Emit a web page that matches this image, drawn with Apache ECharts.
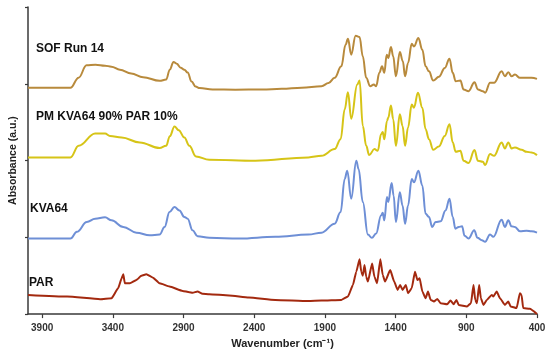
<!DOCTYPE html>
<html>
<head>
<meta charset="utf-8">
<script src="https://cdn.jsdelivr.net/npm/echarts@6/dist/echarts.min.js"></script>
<style>
html,body{margin:0;padding:0;background:#fff;}
#chart{width:550px;height:354px;}
</style>
</head>
<body>
<div id="chart"></div>
<script>
// Wavenumber axis ticks (cm-1)
const xTicks = [3900, 3400, 2900, 2400, 1900, 1400, 900, 400];
const seriesNames = ['SOF Run 14', 'PM KVA64 90% PAR 10%', 'KVA64', 'PAR'];

// [wavenumber, absorbance (offset, a.u.)]
const sofRun14 = [
[4000,2.948],[3700,2.948],[3642,3.08],[3586,3.240],[3523,3.249],[3455,3.236],[3410,3.223],[3350,3.184],
[3270,3.133],[3186,3.085],[3069,3.038],[3023,3.055],[2997,3.184],[2971,3.284],[2948,3.262],[2920,3.210],
[2894,3.184],[2871,3.146],[2843,3.029],[2815,2.964],[2786,2.945],[2695,2.926],[2534,2.922],[2345,2.926],
[2205,2.934],[2064,2.948],[1924,2.968],[1874,3.010],[1831,3.077],[1784,3.227],[1754,3.508],[1737,3.586],
[1714,3.379],[1683,3.625],[1655,3.608],[1632,3.357],[1608,3.077],[1580,2.968],[1554,2.990],[1538,2.968],
[1515,3.142],[1496,3.227],[1480,3.142],[1463,3.379],[1452,3.336],[1433,3.478],[1417,3.357],[1398,3.098],
[1370,3.414],[1349,3.292],[1333,3.098],[1312,3.271],[1286,3.521],[1270,3.486],[1239,3.595],[1211,3.443],
[1188,3.227],[1164,3.163],[1134,3.042],[1094,3.090],[1052,3.206],[1019,3.327],[996,3.142],[975,3.033],
[942,3.042],[919,2.926],[884,2.904],[842,3.020],[818,2.926],[783,2.904],[767,2.883],[732,3.012],
[704,3.012],[650,3.163],[627,3.098],[603,3.150],[580,3.098],[556,3.120],[521,3.077],[474,3.077],
[439,3.077],[400,3.064]
];

const pmKva64Par = [
[4000,2.041],[3700,2.041],[3642,2.192],[3525,2.352],[3455,2.352],[3420,2.321],[3338,2.300],[3209,2.236],
[3069,2.162],[3023,2.192],[2997,2.317],[2964,2.443],[2934,2.395],[2894,2.300],[2859,2.192],[2812,2.054],
[2718,2.010],[2392,1.997],[2017,2.041],[1924,2.062],[1831,2.149],[1789,2.278],[1760,2.667],[1737,2.891],
[1714,2.546],[1671,2.990],[1655,3.042],[1632,2.450],[1608,2.192],[1587,2.071],[1550,2.149],[1526,2.127],
[1503,2.343],[1491,2.373],[1480,2.278],[1461,2.515],[1452,2.559],[1433,2.718],[1417,2.537],[1398,2.192],
[1370,2.602],[1351,2.450],[1333,2.192],[1312,2.430],[1286,2.731],[1270,2.689],[1242,2.883],[1211,2.689],
[1188,2.408],[1164,2.278],[1134,2.140],[1094,2.184],[1052,2.321],[1019,2.472],[996,2.236],[975,2.114],
[942,2.127],[919,1.997],[884,1.968],[842,2.136],[818,1.997],[783,1.984],[767,1.942],[732,2.084],
[704,2.062],[650,2.236],[627,2.158],[603,2.236],[580,2.158],[556,2.171],[509,2.140],[474,2.114],
[439,2.106],[400,2.071]
];

const kva64 = [
[4000,0.984],[3700,0.984],[3654,1.071],[3584,1.200],[3525,1.243],[3455,1.260],[3409,1.221],[3326,1.135],
[3233,1.061],[3139,1.027],[3069,1.036],[3034,1.135],[2999,1.329],[2964,1.394],[2929,1.350],[2894,1.265],
[2871,1.243],[2836,1.091],[2801,1.014],[2718,0.993],[2508,0.984],[2251,1.006],[2017,1.036],[1924,1.061],
[1831,1.178],[1789,1.329],[1760,1.761],[1742,1.868],[1714,1.502],[1678,1.997],[1662,1.890],[1632,1.459],
[1596,1.036],[1568,0.993],[1538,1.049],[1503,1.285],[1491,1.320],[1480,1.221],[1461,1.524],[1452,1.459],
[1428,1.709],[1414,1.544],[1398,1.200],[1370,1.588],[1351,1.415],[1333,1.178],[1312,1.415],[1286,1.761],
[1270,1.718],[1239,1.868],[1211,1.674],[1188,1.307],[1164,1.265],[1141,1.135],[1117,1.200],[1082,1.208],
[1047,1.350],[1019,1.502],[996,1.265],[977,1.113],[954,1.135],[930,1.143],[912,1.019],[884,0.984],
[844,1.091],[821,0.993],[790,0.962],[767,0.941],[732,1.036],[709,1.006],[650,1.230],[627,1.135],
[603,1.221],[580,1.143],[556,1.135],[521,1.078],[474,1.087],[439,1.078],[400,1.061]
];

const par = [
[4000,0.250],[3724,0.229],[3490,0.194],[3409,0.207],[3362,0.337],[3338,0.466],[3326,0.518],[3315,0.401],
[3280,0.401],[3233,0.444],[3198,0.501],[3163,0.518],[3116,0.475],[3069,0.401],[2999,0.359],[2906,0.302],
[2859,0.285],[2836,0.278],[2801,0.294],[2766,0.265],[2718,0.259],[2578,0.242],[2438,0.216],[2251,0.185],
[2017,0.172],[1924,0.177],[1784,0.185],[1737,0.229],[1702,0.379],[1678,0.553],[1655,0.716],[1643,0.553],
[1632,0.501],[1620,0.638],[1608,0.488],[1596,0.423],[1566,0.660],[1550,0.488],[1531,0.401],[1508,0.716],
[1491,0.509],[1475,0.423],[1438,0.573],[1410,0.423],[1386,0.315],[1368,0.379],[1351,0.315],[1328,0.379],
[1312,0.272],[1286,0.337],[1263,0.553],[1246,0.444],[1230,0.466],[1211,0.294],[1188,0.207],[1171,0.294],
[1152,0.185],[1129,0.164],[1105,0.198],[1082,0.142],[1035,0.129],[1012,0.177],[989,0.129],[970,0.185],
[954,0.120],[895,0.100],[867,0.142],[849,0.379],[837,0.185],[825,0.142],[809,0.379],[797,0.207],
[779,0.120],[755,0.185],[720,0.250],[709,0.229],[685,0.294],[662,0.207],[627,0.120],[603,0.164],
[587,0.100],[544,0.078],[521,0.272],[509,0.250],[498,0.078],[451,0.069],[400,0.0]
];

const colors = ['#B88A3C', '#D6C417', '#6E8FD6', '#A3290F'];
const labelFont = 'Liberation Sans, Arial, sans-serif';

const chart = echarts.init(document.getElementById('chart'), null, {renderer: 'canvas'});

function mkSeries(name, data, color, smooth) {
  return {
    name: name,
    type: 'line',
    data: data,
    showSymbol: false,
    smooth: smooth,
    smoothMonotone: 'x',
    lineStyle: {color: color, width: 2},
    itemStyle: {color: color},
    silent: true,
    z: 3
  };
}

const option = {
  animation: false,
  backgroundColor: '#ffffff',
  grid: {left: 24, right: 13, top: 7, bottom: 38, containLabel: false},
  xAxis: {
    type: 'value',
    inverse: true,
    min: 400,
    max: 4000,
    interval: 500,
    name: 'Wavenumber (cm\u207B\u00B9)',
    nameLocation: 'middle',
    nameGap: 22,
    nameTextStyle: {fontFamily: labelFont, fontWeight: 'bold', fontSize: 11, color: '#222'},
    axisLine: {show: true, lineStyle: {color: '#3a3a3a', width: 1.5}},
    axisTick: {show: true, inside: false, length: 4, lineStyle: {color: '#3a3a3a', width: 1.2}},
    axisLabel: {
      fontFamily: labelFont, fontWeight: 'bold', fontSize: 10, color: '#333', margin: 9,
      showMaxLabel: false,
      formatter: function (v) { return xTicks.indexOf(v) >= 0 ? String(v) : ''; }
    },
    splitLine: {show: false}
  },
  yAxis: {
    type: 'value',
    min: 0,
    max: 4,
    interval: 1,
    name: 'Absorbance (a.u.)',
    nameLocation: 'middle',
    nameGap: 9,
    nameTextStyle: {fontFamily: labelFont, fontWeight: 'bold', fontSize: 10.5, color: '#222'},
    axisLine: {show: true, lineStyle: {color: '#3a3a3a', width: 1.5}},
    axisTick: {show: true, inside: false, length: 3, lineStyle: {color: '#3a3a3a', width: 1.2}},
    axisLabel: {show: false},
    splitLine: {show: false}
  },
  series: [
    mkSeries(seriesNames[0], sofRun14, colors[0], 0.4),
    mkSeries(seriesNames[1], pmKva64Par, colors[1], 0.4),
    mkSeries(seriesNames[2], kva64, colors[2], 0.4),
    mkSeries(seriesNames[3], par, colors[3], 0.15)
  ],
  graphic: [
    {type: 'text', left: 36, top: 43, style: {text: seriesNames[0], font: 'bold 12px ' + labelFont, fill: '#111'}},
    {type: 'text', left: 36, top: 111, style: {text: seriesNames[1], font: 'bold 12px ' + labelFont, fill: '#111'}},
    {type: 'text', left: 30, top: 203, style: {text: seriesNames[2], font: 'bold 12px ' + labelFont, fill: '#111'}},
    {type: 'text', left: 29, top: 277, style: {text: seriesNames[3], font: 'bold 12px ' + labelFont, fill: '#111'}}
  ]
};
chart.setOption(option);
</script>
</body>
</html>
